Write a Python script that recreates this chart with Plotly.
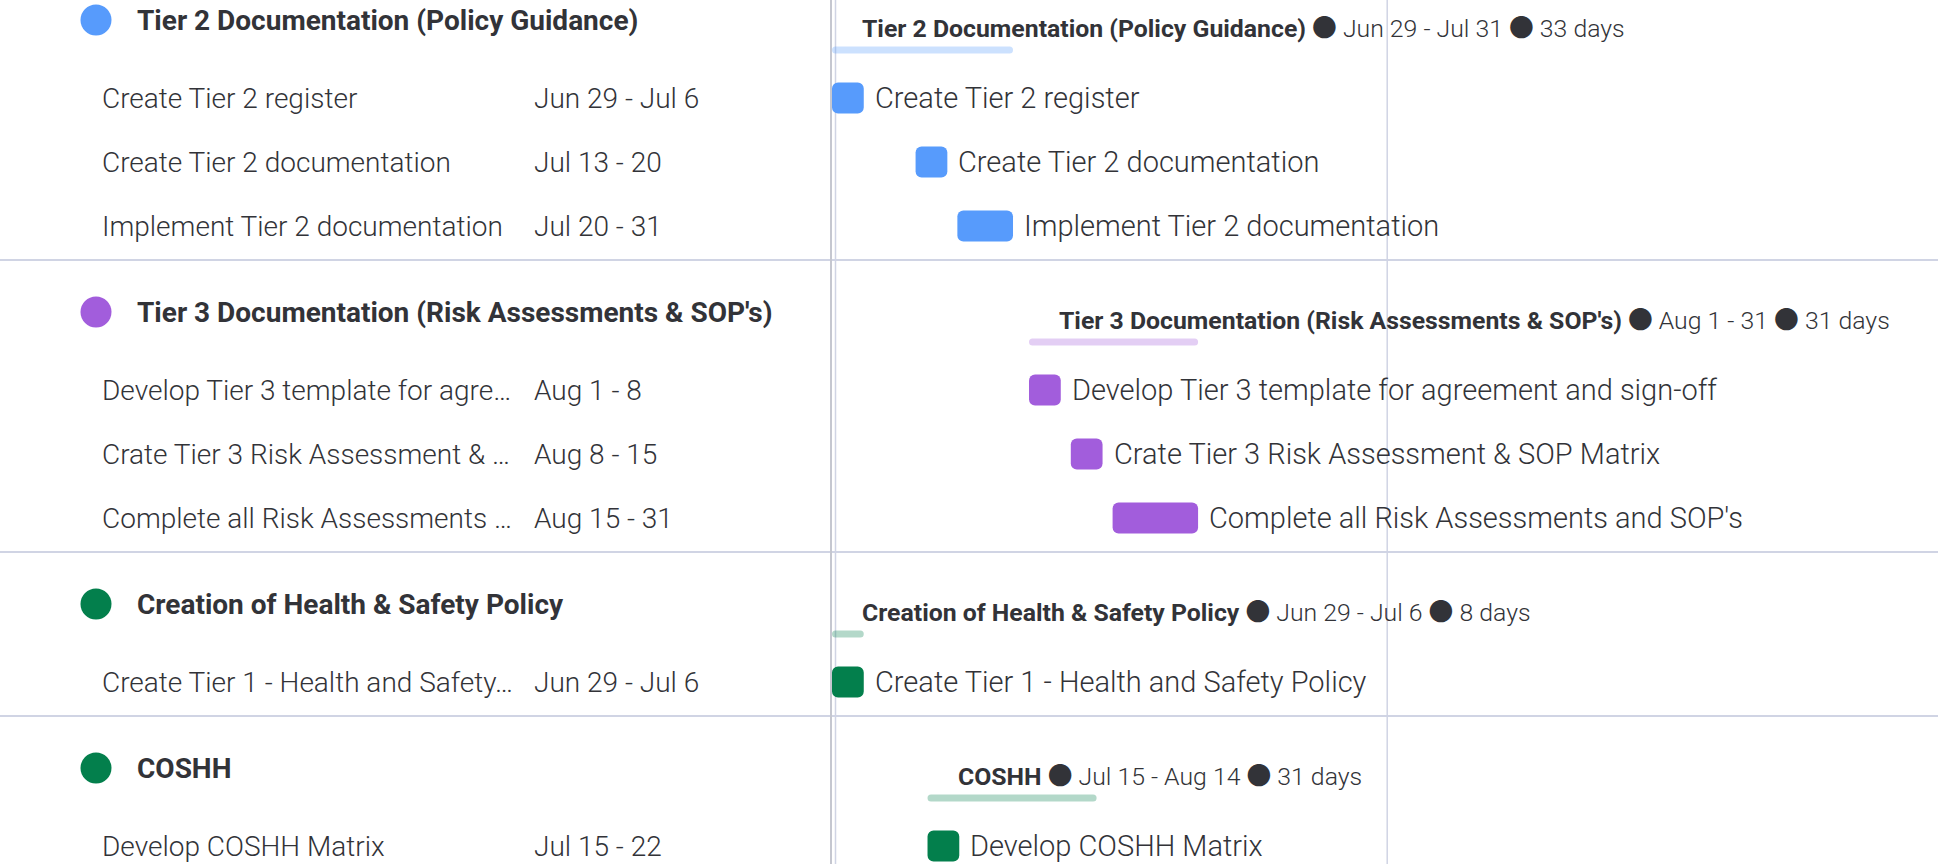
import plotly.graph_objects as go
import pandas as pd

# ---------------- data ----------------
group_names = [
    "Tier 2 Documentation (Policy Guidance)",
    "Tier 3 Documentation (Risk Assessments & SOP's)",
    "Creation of Health & Safety Policy",
    "COSHH",
]
group_colors = ["#579bfc", "#a25ddc", "#037f4c", "#037f4c"]
group_start = ["2020-06-29", "2020-08-01", "2020-06-29", "2020-07-15"]
group_end = ["2020-07-31", "2020-08-31", "2020-07-06", "2020-08-14"]

task_group = [0, 0, 0, 1, 1, 1, 2, 3]
task_names = [
    "Create Tier 2 register",
    "Create Tier 2 documentation",
    "Implement Tier 2 documentation",
    "Develop Tier 3 template for agreement and sign-off",
    "Crate Tier 3 Risk Assessment & SOP Matrix",
    "Complete all Risk Assessments and SOP's",
    "Create Tier 1 - Health and Safety Policy",
    "Develop COSHH Matrix",
]
task_names_left = [
    "Create Tier 2 register",
    "Create Tier 2 documentation",
    "Implement Tier 2 documentation",
    "Develop Tier 3 template for agre…",
    "Crate Tier 3 Risk Assessment & …",
    "Complete all Risk Assessments …",
    "Create Tier 1 - Health and Safety…",
    "Develop COSHH Matrix",
]
task_start = ["2020-06-29", "2020-07-13", "2020-07-20", "2020-08-01",
              "2020-08-08", "2020-08-15", "2020-06-29", "2020-07-15"]
task_end = ["2020-07-06", "2020-07-20", "2020-07-31", "2020-08-08",
            "2020-08-15", "2020-08-31", "2020-07-06", "2020-07-22"]

timeline_start = "2020-06-29"
marker_line_date = "2020-09-30"

# ---------------- layout constants ----------------
W, H = 1938, 864
LEFT_W = 832
PX_PER_DAY = 5.97
DAY_MS = 86400000
MS_PER_PX = DAY_MS / PX_PER_DAY
BAR_GAP_PX = 16
LABEL_PAD_PX = 9
SUMMARY_PAD_PX = 28
TEXT = "#323338"
LINE = "#d0d4e4"
FONT = "Roboto"


def fmt_range(s, e):
    s, e = pd.Timestamp(s), pd.Timestamp(e)
    if s.month == e.month:
        return f"{s.strftime('%b')} {s.day} - {e.day}"
    return f"{s.strftime('%b')} {s.day} - {e.strftime('%b')} {e.day}"


def ts_str(t):
    return pd.Timestamp(t).strftime("%Y-%m-%d %H:%M:%S")


def rgba(hexc, a):
    h = hexc.lstrip("#")
    return f"rgba({int(h[0:2],16)},{int(h[2:4],16)},{int(h[4:6],16)},{a})"


def bar_len_ms(s, e):
    d = (pd.Timestamp(e) - pd.Timestamp(s)).days + 1
    return d * DAY_MS - BAR_GAP_PX * MS_PER_PX


# ---------------- row positions ----------------
header_y, summary_text_y, summary_bar_y = [], [], []
task_y = [None] * len(task_names)
sep_y = []
T = -32
for g in range(len(group_names)):
    idx = [i for i, tg in enumerate(task_group) if tg == g]
    header_y.append(T + 52)
    summary_text_y.append(T + 58)
    summary_bar_y.append(T + 82)
    for k, i in enumerate(idx):
        task_y[i] = T + 130 + 64 * k
    T = T + 100 + 64 * len(idx)
    sep_y.append(T)

fig = go.Figure()

# summary bars
fig.add_trace(go.Bar(
    orientation="h",
    y=summary_bar_y,
    base=group_start,
    x=[bar_len_ms(s, e) for s, e in zip(group_start, group_end)],
    width=7,
    marker=dict(color=[rgba(c, 0.3) for c in group_colors], cornerradius=4, line=dict(width=0)),
    xaxis="x", yaxis="y", hoverinfo="skip",
))

# task bars
fig.add_trace(go.Bar(
    orientation="h",
    y=task_y,
    base=task_start,
    x=[bar_len_ms(s, e) for s, e in zip(task_start, task_end)],
    width=31,
    marker=dict(color=[group_colors[g] for g in task_group], cornerradius=6, line=dict(width=0)),
    xaxis="x", yaxis="y", hoverinfo="skip",
))

# left dots
fig.add_trace(go.Scatter(
    x=[96] * len(group_names), y=header_y, mode="markers",
    marker=dict(size=31, color=group_colors, line=dict(width=0)),
    xaxis="x2", yaxis="y", hoverinfo="skip",
))

annotations = []
dot = "<span style='font-family:Noto Sans CJK SC'>●</span>"
for g, name in enumerate(group_names):
    annotations.append(dict(
        x=135, y=header_y[g], xref="x2", yref="y", text=name, showarrow=False,
        xanchor="left", yanchor="middle",
        font=dict(family=FONT, size=28, color=TEXT, weight=700),
    ))
    days = (pd.Timestamp(group_end[g]) - pd.Timestamp(group_start[g])).days + 1
    sx = pd.Timestamp(group_start[g]) + pd.Timedelta(milliseconds=SUMMARY_PAD_PX * MS_PER_PX)
    annotations.append(dict(
        x=ts_str(sx), y=summary_text_y[g], xref="x", yref="y",
        text=f"<b>{name}</b> {dot} {fmt_range(group_start[g], group_end[g])} {dot} {days} days",
        showarrow=False, xanchor="left", yanchor="middle",
        font=dict(family=FONT, size=24.8, color=TEXT, weight=300),
    ))

for i in range(len(task_names)):
    annotations.append(dict(
        x=100, y=task_y[i], xref="x2", yref="y", text=task_names_left[i], showarrow=False,
        xanchor="left", yanchor="middle",
        font=dict(family=FONT, size=28, color=TEXT, weight=300),
    ))
    annotations.append(dict(
        x=532, y=task_y[i], xref="x2", yref="y", text=fmt_range(task_start[i], task_end[i]),
        showarrow=False, xanchor="left", yanchor="middle",
        font=dict(family=FONT, size=28, color=TEXT, weight=300),
    ))
    lx = pd.Timestamp(task_start[i]) + pd.Timedelta(
        milliseconds=bar_len_ms(task_start[i], task_end[i]) + LABEL_PAD_PX * MS_PER_PX)
    annotations.append(dict(
        x=ts_str(lx), y=task_y[i], xref="x", yref="y", text=task_names[i], showarrow=False,
        xanchor="left", yanchor="middle",
        font=dict(family=FONT, size=29, color=TEXT, weight=300),
    ))

shapes = []
for y in sep_y:
    shapes.append(dict(type="line", xref="paper", yref="y", x0=0, x1=1, y0=y, y1=y,
                       line=dict(color=LINE, width=2), layer="below"))
shapes.append(dict(type="line", xref="paper", yref="paper", x0=831 / W, x1=831 / W, y0=0, y1=1,
                   line=dict(color="#c5c7d0", width=2), layer="below"))
shapes.append(dict(type="line", xref="paper", yref="paper", x0=835.5 / W, x1=835.5 / W, y0=0, y1=1,
                   line=dict(color=LINE, width=1.5), layer="below"))
shapes.append(dict(type="line", xref="x", yref="paper", x0=marker_line_date, x1=marker_line_date,
                   y0=0, y1=1, line=dict(color=LINE, width=1.5), layer="below"))

x_start = pd.Timestamp(timeline_start)
x_end = x_start + pd.Timedelta(days=(W - LEFT_W) / PX_PER_DAY)

fig.update_layout(
    width=W, height=H,
    margin=dict(l=0, r=0, t=0, b=0),
    paper_bgcolor="white", plot_bgcolor="white",
    showlegend=False, barmode="overlay", hovermode=False,
    xaxis=dict(type="date", domain=[LEFT_W / W, 1], range=[ts_str(x_start), ts_str(x_end)],
               visible=False, fixedrange=True),
    xaxis2=dict(domain=[0, LEFT_W / W], range=[0, LEFT_W], visible=False, anchor="y"),
    yaxis=dict(range=[H, 0], visible=False, domain=[0, 1]),
    annotations=annotations,
    shapes=shapes,
)

fig.write_html("out.html")
